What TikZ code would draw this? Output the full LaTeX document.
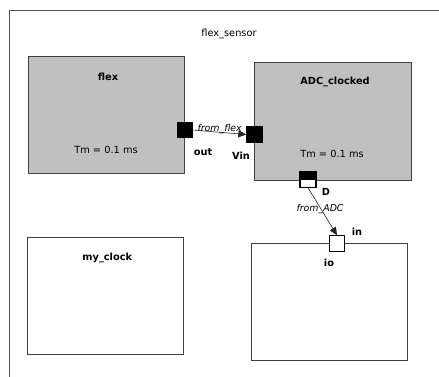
\documentclass[tikz,border=0pt]{standalone}
\usepackage{fontspec}
\setmainfont{DejaVu Sans}
\usetikzlibrary{arrows.meta}
\definecolor{boxgray}{HTML}{C0C0C0}
\definecolor{edgegray}{HTML}{404040}
\begin{document}
\begin{tikzpicture}[x=1pt,y=-1pt,
  every node/.style={font=\fontsize{9.8}{11}\selectfont},
  blockbox/.style={draw=edgegray, line width=1pt, inner sep=0pt},
  graybox/.style={blockbox, fill=boxgray},
  whitebox/.style={blockbox, fill=white},
  portbox/.style={draw=black, line width=0.8pt, minimum size=15.5pt, inner sep=0pt},
  title/.style={font=\fontsize{9.8}{11}\selectfont\bfseries},
  plain/.style={font=\fontsize{9.8}{11}\selectfont},
  conn/.style={draw=black!85, line width=0.6pt, -{Triangle[length=8pt,width=7pt]}},
  connlabel/.style={font=\fontsize{9.4}{11}\selectfont\itshape, inner sep=1pt}]
\useasboundingbox (0,0) rectangle (439,376);
\fill[white] (0,0) rectangle (439,376);
\begin{scope}
\clip (0,0) rectangle (439,376);
\draw[draw=edgegray!90, line width=1pt] (9,10) rectangle (460,400);
\end{scope}
\node[plain] (sensorlbl) at (229,34.3) {flex\_sensor};

% flex
\node[graybox, minimum width=156pt, minimum height=117pt] (flex) at (106,114.5) {};
\node[title] (flexlbl) at (108,76.5) {flex};
\node[plain] (flextm) at (106,149.5) {Tm = 0.1 ms};
\node[portbox, fill=black] (out) at (184.7,130) {};
\node[title] (outlbl) at (203,152) {out};

% ADC
\node[graybox, minimum width=157pt, minimum height=118pt] (adc) at (332.5,121) {};
\node[title] (adclbl) at (335,82) {ADC\_clocked};
\node[plain] (adctm) at (332,153.5) {Tm = 0.1 ms};
\node[portbox, fill=black] (vin) at (254.5,134.5) {};
\node[title] (vinlbl) at (241,155.5) {Vin};

\node[portbox, fill=white] (dport) at (308,179.5) {};
\fill[black] (dport.north west) rectangle (dport.east);
\draw[black, line width=0.8pt] (dport.north west) rectangle (dport.south east);
\node[title] (dlbl) at (326,192) {D};

% my_clock
\node[whitebox, minimum width=156pt, minimum height=117pt] (clock) at (105.2,296) {};
\node[title] (clocklbl) at (107.3,257.5) {my\_clock};

% io
\node[whitebox, minimum width=156pt, minimum height=117pt] (io) at (329.2,301.7) {};
\node[title] (iolbl) at (329,263) {io};
\node[portbox, fill=white] (inport) at (337,243.5) {};
\node[title] (inlbl) at (357,232) {in};

% connectors
\draw[conn] (out.east) -- node[connlabel, above, pos=0.5, yshift=-3pt] {from\_flex} (vin.west);
\draw[conn] (dport.south) -- node[connlabel, pos=0.45, xshift=-1pt] {from\_ADC} (inport.north);
\end{tikzpicture}
\end{document}
